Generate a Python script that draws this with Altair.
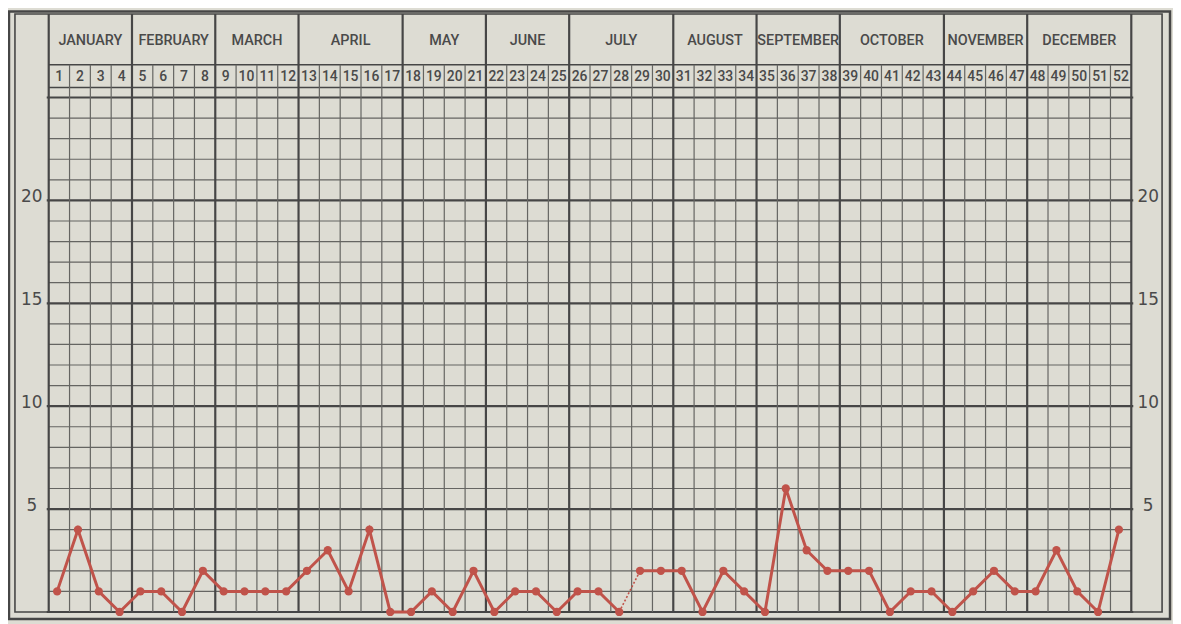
import altair as alt
import pandas as pd

# ---------------- data ----------------
months = ["JANUARY", "FEBRUARY", "MARCH", "APRIL", "MAY", "JUNE",
          "JULY", "AUGUST", "SEPTEMBER", "OCTOBER", "NOVEMBER", "DECEMBER"]
month_first_week = [1, 5, 9, 13, 18, 22, 26, 31, 35, 39, 44, 48]
month_last_week = [4, 8, 12, 17, 21, 25, 30, 34, 38, 43, 47, 52]
weeks = list(range(1, 53))
values = [1, 4, 1, 0, 1, 1, 0, 2, 1, 1, 1, 1, 2, 3, 1, 4, 0,
          0, 1, 0, 2, 0, 1, 1, 0, 1, 1, 0, 2, 2, 2, 0, 2, 1, 0,
          6, 3, 2, 2, 2, 0, 1, 1, 0, 1, 2, 1, 1, 3, 1, 0, 4]
dashed_from_week = [28]          # segment 28 -> 29 drawn dotted
y_labels = [5, 10, 15, 20]
y_max = 25

# ---------------- style ----------------
W, H = 1090, 518
PAPER = "#dddcd3"
INK = "#464646"
INK_THIN = "#656562"
RED = "#c0534a"
FONT = "Roboto, sans-serif"
MONTH_TOP, WEEK_TOP, WEEK_BOTTOM = -84, -33, -10

xs = alt.Scale(domain=[0.5, 52.5], nice=False, zero=False)
ys = alt.Scale(domain=[0, y_max], nice=False, zero=True)

# ---------------- tables ----------------
df = pd.DataFrame({"week": weeks, "value": values})
df["seg"] = [sum(1 for d in dashed_from_week if d < w) for w in weeks]
dash_rows = []
for i, d in enumerate(dashed_from_week):
    for w in (d, d + 1):
        dash_rows.append({"week": w, "value": values[w - 1], "seg": i})
df_dash = pd.DataFrame(dash_rows)

df_months = pd.DataFrame({"month": months, "first": month_first_week, "last": month_last_week})
month_bounds = [f - 0.5 for f in month_first_week] + [month_last_week[-1] + 0.5]
week_bounds = [w - 0.5 for w in weeks] + [weeks[-1] + 0.5]
thin_v = pd.DataFrame({"b": [b for b in week_bounds if b not in month_bounds]})
thick_v = pd.DataFrame({"b": month_bounds})
h_levels = list(range(0, y_max + 1))
thin_h = pd.DataFrame({"v": [v for v in h_levels if v % 5 != 0]})
thick_h = pd.DataFrame({"v": [v for v in h_levels if v % 5 == 0]})
df_ylab = pd.DataFrame({"v": y_labels, "label": [str(v) for v in y_labels]})
one = pd.DataFrame({"k": [0]})

layers = []

# frames
layers.append(alt.Chart(one).mark_rect(fill=None, stroke=INK, strokeWidth=2.5).encode(
    x=alt.value(-40), x2=alt.value(W + 39), y=alt.value(-86.5), y2=alt.value(H + 7)))
layers.append(alt.Chart(one).mark_rect(fill=None, stroke=INK, strokeWidth=1.6).encode(
    x=alt.value(-34), x2=alt.value(W + 31), y=alt.value(MONTH_TOP), y2=alt.value(H)))

# horizontal grid
layers.append(alt.Chart(thin_h).mark_rule(color=INK_THIN, strokeWidth=1.2).encode(
    y=alt.Y("v:Q", scale=ys, axis=None), x=alt.value(0), x2=alt.value(W)))
layers.append(alt.Chart(thick_h).mark_rule(color=INK, strokeWidth=2.2).encode(
    y=alt.Y("v:Q", scale=ys, axis=None), x=alt.value(-2), x2=alt.value(W + 2)))

# header horizontal lines
for yy, sw in ((WEEK_TOP, 1.4), (WEEK_BOTTOM, 1.4)):
    layers.append(alt.Chart(one).mark_rule(color=INK, strokeWidth=sw).encode(
        x=alt.value(0), x2=alt.value(W), y=alt.value(yy)))

# vertical grid
layers.append(alt.Chart(thin_v).mark_rule(color=INK_THIN, strokeWidth=1.2).encode(
    x=alt.X("b:Q", scale=xs, axis=None), y=alt.value(WEEK_TOP), y2=alt.value(H)))
layers.append(alt.Chart(thick_v).mark_rule(color=INK, strokeWidth=2.2).encode(
    x=alt.X("b:Q", scale=xs, axis=None), y=alt.value(MONTH_TOP), y2=alt.value(H)))

# header texts
layers.append(alt.Chart(df_months).transform_calculate(mid="(datum.first + datum.last) / 2").mark_text(
    font=FONT, fontSize=14.5, fontWeight=500, color="#4a4a4a", baseline="middle", align="center").encode(
    x=alt.X("mid:Q", scale=xs, axis=None), y=alt.value(-57), text="month:N"))
layers.append(alt.Chart(df).mark_text(
    font=FONT, fontSize=14, fontWeight=500, color="#4a4a4a", baseline="middle", align="center").encode(
    x=alt.X("week:Q", scale=xs, axis=None), y=alt.value(-21), text="week:N"))

# y labels both sides
for xx in (-17, W + 17):
    layers.append(alt.Chart(df_ylab).mark_text(
        font="DejaVu Sans, sans-serif", fontSize=17, color="#4a4a4a", baseline="middle",
        align="center", dy=-3).encode(
        x=alt.value(xx), y=alt.Y("v:Q", scale=ys, axis=None), text="label:N"))

# data line
layers.append(alt.Chart(df).mark_line(color=RED, strokeWidth=3, xOffset=-2).encode(
    x=alt.X("week:Q", scale=xs, axis=None), y=alt.Y("value:Q", scale=ys, axis=None),
    detail="seg:N"))
layers.append(alt.Chart(df_dash).mark_line(color=RED, strokeWidth=1.6, strokeDash=[2, 2], xOffset=-2).encode(
    x=alt.X("week:Q", scale=xs, axis=None), y=alt.Y("value:Q", scale=ys, axis=None),
    detail="seg:N"))
layers.append(alt.Chart(df).mark_circle(color=RED, size=70, opacity=1, xOffset=-2).encode(
    x=alt.X("week:Q", scale=xs, axis=None), y=alt.Y("value:Q", scale=ys, axis=None)))

chart = alt.layer(*layers).properties(
    width=W, height=H,
    autosize="none",
    padding={"left": 41, "top": 88, "right": 42, "bottom": 10},
    background=PAPER,
).configure_view(stroke=None)

chart.save("out.html", embed_options={"renderer": "svg", "actions": False})
